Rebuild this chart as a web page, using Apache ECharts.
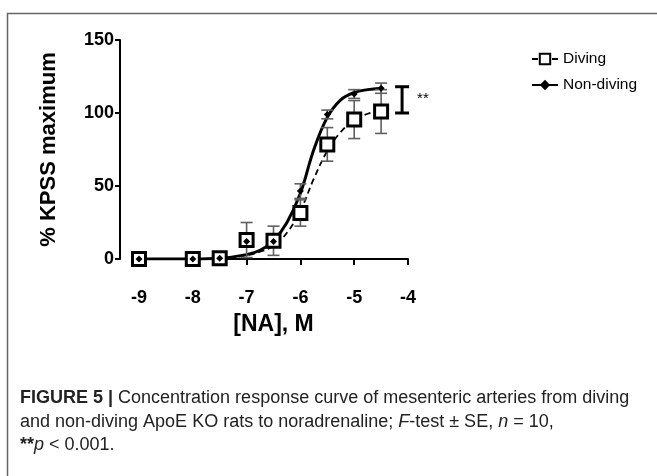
<!DOCTYPE html>
<html><head><meta charset="utf-8">
<script src="https://cdn.jsdelivr.net/npm/echarts@6/dist/echarts.min.js"></script>
<style>html,body{margin:0;padding:0;background:#fff}#c{width:657px;height:476px}</style>
</head><body><div id="c"></div>
<script>
// log[NA] concentrations
const logConc = [-9, -8, -7.5, -7, -6.5, -6, -5.5, -5, -4.5];
// mean responses (% KPSS max)
const divingMean = [0, 0, 0.5, 13, 12.5, 31.5, 78.5, 95.5, 101];
const divingSE = [0.5, 0.5, 0.5, 12, 10, 9, 11.5, 13, 15];
const nonDivingMean = [0, 0, 0.5, 12, 12, 46.5, 99, 113, 117];
const nonDivingSE = [0.5, 0.5, 0.5, 2, 3, 5, 3, 3, 3.5];
// fitted curves
const curveX = [-9, -8, -7.5, -7, -6.75, -6.5, -6.25, -6, -5.75, -5.5, -5.25, -5, -4.75, -4.5];
const curveDiving = [0, 0, 0.3, 2.5, 5, 9, 18, 33, 55, 74, 87, 95, 99.5, 102];
const curveNonDiving = [0, 0, 0.5, 3, 6, 12.5, 25, 45, 75, 97, 109, 114, 116, 117];
const xTicks = [-9, -8, -7, -6, -5, -4];
const yTicks = [0, 50, 100, 150];
// significance bracket between the maxima
const bracket = [-4.11, 100, 118];
const bracketLabel = '**';

const FONT = '"Liberation Sans", Arial, sans-serif';
const CAP = 18;
const zip = (a, b) => a.map((v, i) => [v, b[i]]);
const errData = (m, se) => logConc.map((x, i) => [x, m[i] - se[i], m[i] + se[i]]);

function errRender(params, api) {
  const x = api.value(0), lo = api.value(1), hi = api.value(2);
  const p1 = api.coord([x, lo]), p2 = api.coord([x, hi]);
  const w = 6;
  const st = { stroke: '#606060', lineWidth: 1.6 };
  return { type: 'group', children: [
    { type: 'line', shape: { x1: p1[0], y1: p1[1], x2: p2[0], y2: p2[1] }, style: st },
    { type: 'line', shape: { x1: p1[0] - w, y1: p1[1], x2: p1[0] + w, y2: p1[1] }, style: st },
    { type: 'line', shape: { x1: p2[0] - w, y1: p2[1], x2: p2[0] + w, y2: p2[1] }, style: st }
  ]};
}
function bracketRender(params, api) {
  const x = api.value(0), lo = api.value(1), hi = api.value(2);
  const p1 = api.coord([x, lo]), p2 = api.coord([x, hi]);
  const w = 7;
  const st = { stroke: '#000', lineWidth: 3 };
  return { type: 'group', children: [
    { type: 'line', shape: { x1: p1[0], y1: p1[1], x2: p2[0], y2: p2[1] }, style: st },
    { type: 'line', shape: { x1: p1[0] - w, y1: p1[1], x2: p1[0] + w, y2: p1[1] }, style: st },
    { type: 'line', shape: { x1: p2[0] - w, y1: p2[1], x2: p2[0] + w, y2: p2[1] }, style: st },
    { type: 'text', style: { x: p1[0] + 15, y: (p1[1] + p2[1]) / 2 - 1, text: bracketLabel,
      font: '15px ' + FONT, fill: '#000', textVerticalAlign: 'middle' } }
  ]};
}

const chart = echarts.init(document.getElementById('c'), null, { renderer: 'canvas' });
chart.setOption({
  animation: false,
  backgroundColor: '#fff',
  grid: { left: 139, right: 249, top: 40, bottom: 217 },
  xAxis: {
    type: 'value', min: -9, max: -4, interval: 1, offset: 19,
    name: '[NA], M', nameLocation: 'middle', nameGap: 35,
    nameTextStyle: { fontFamily: FONT, fontWeight: 'bold', fontSize: 23, color: '#000' },
    axisLine: { lineStyle: { color: '#000', width: 2 } },
    axisTick: { length: 6, lineStyle: { color: '#000', width: 2 } },
    axisLabel: { fontFamily: FONT, fontWeight: 'bold', fontSize: 18, color: '#000', margin: 11,
      formatter: v => xTicks.includes(v) ? String(v) : '' },
    splitLine: { show: false }
  },
  yAxis: {
    type: 'value', min: 0, max: 150, interval: 50, offset: 19,
    name: '% KPSS maximum', nameLocation: 'middle', nameGap: 60,
    nameTextStyle: { fontFamily: FONT, fontWeight: 'bold', fontSize: 22, color: '#000' },
    axisLine: { show: true, lineStyle: { color: '#000', width: 2 } },
    axisTick: { show: true, length: 5, lineStyle: { color: '#000', width: 2 } },
    axisLabel: { fontFamily: FONT, fontWeight: 'bold', fontSize: 18, color: '#000', margin: 6,
      formatter: v => yTicks.includes(v) ? String(v) : '' },
    splitLine: { show: false }
  },
  legend: {
    orient: 'vertical', left: 526, top: 46, itemGap: 10, itemWidth: 26, itemHeight: 13,
    data: ['Diving', 'Non-diving'],
    textStyle: { fontFamily: FONT, fontSize: 15.5, color: '#000' }
  },
  series: [
    { name: 'Diving', type: 'line', data: zip(curveX, curveDiving), smooth: 0.4,
      showSymbol: false, symbol: 'rect', symbolSize: 10,
      itemStyle: { color: '#fff', borderColor: '#000', borderWidth: 2.5 },
      lineStyle: { color: '#000', width: 1.8, type: [6, 4] }, z: 2 },
    { name: 'Non-diving', type: 'line', data: zip(curveX, curveNonDiving), smooth: 0.4,
      showSymbol: false, symbol: 'diamond', symbolSize: 7,
      itemStyle: { color: '#000' },
      lineStyle: { color: '#000', width: 3 }, z: 2 },
    { name: 'Diving SE', type: 'custom', renderItem: errRender, data: errData(divingMean, divingSE), z: 3 },
    { name: 'Non-diving SE', type: 'custom', renderItem: errRender, data: errData(nonDivingMean, nonDivingSE), z: 3 },
    { name: 'Diving mean', type: 'scatter', data: zip(logConc, divingMean), symbol: 'rect', symbolSize: 13,
      itemStyle: { color: '#fff', borderColor: '#000', borderWidth: 3, opacity: 1 }, z: 4 },
    { name: 'Non-diving mean', type: 'scatter', data: zip(logConc, nonDivingMean), symbol: 'diamond', symbolSize: 7,
      itemStyle: { color: '#000', opacity: 1 }, z: 5 },
    { name: 'Significance', type: 'custom', renderItem: bracketRender, data: [bracket], clip: false, z: 5 }
  ],
  graphic: [
    { type: 'polyline', shape: { points: [[7.5, 480], [7.5, 13.5], [660, 13.5]] },
      style: { stroke: '#666', lineWidth: 1.5, fill: null } },
    { type: 'text', left: 20, top: 389, style: {
      text: '{b|FIGURE 5 |} Concentration response curve of mesenteric arteries from diving',
      font: CAP + 'px ' + FONT, fill: '#222',
      rich: { b: { fontWeight: 'bold', fontFamily: FONT, fontSize: CAP, fill: '#222' } } } },
    { type: 'text', left: 20, top: 413, style: {
      text: 'and non-diving ApoE KO rats to noradrenaline; {i|F}-test ± SE, {i|n} = 10,',
      font: CAP + 'px ' + FONT, fill: '#222',
      rich: { i: { fontStyle: 'italic', fontFamily: FONT, fontSize: CAP, fill: '#222' } } } },
    { type: 'text', left: 20, top: 436, style: {
      text: '{b|**}{i|p} < 0.001.',
      font: CAP + 'px ' + FONT, fill: '#222',
      rich: { b: { fontWeight: 'bold', fontFamily: FONT, fontSize: CAP, fill: '#222' },
              i: { fontStyle: 'italic', fontFamily: FONT, fontSize: CAP, fill: '#222' } } } }
  ]
});
</script></body></html>
